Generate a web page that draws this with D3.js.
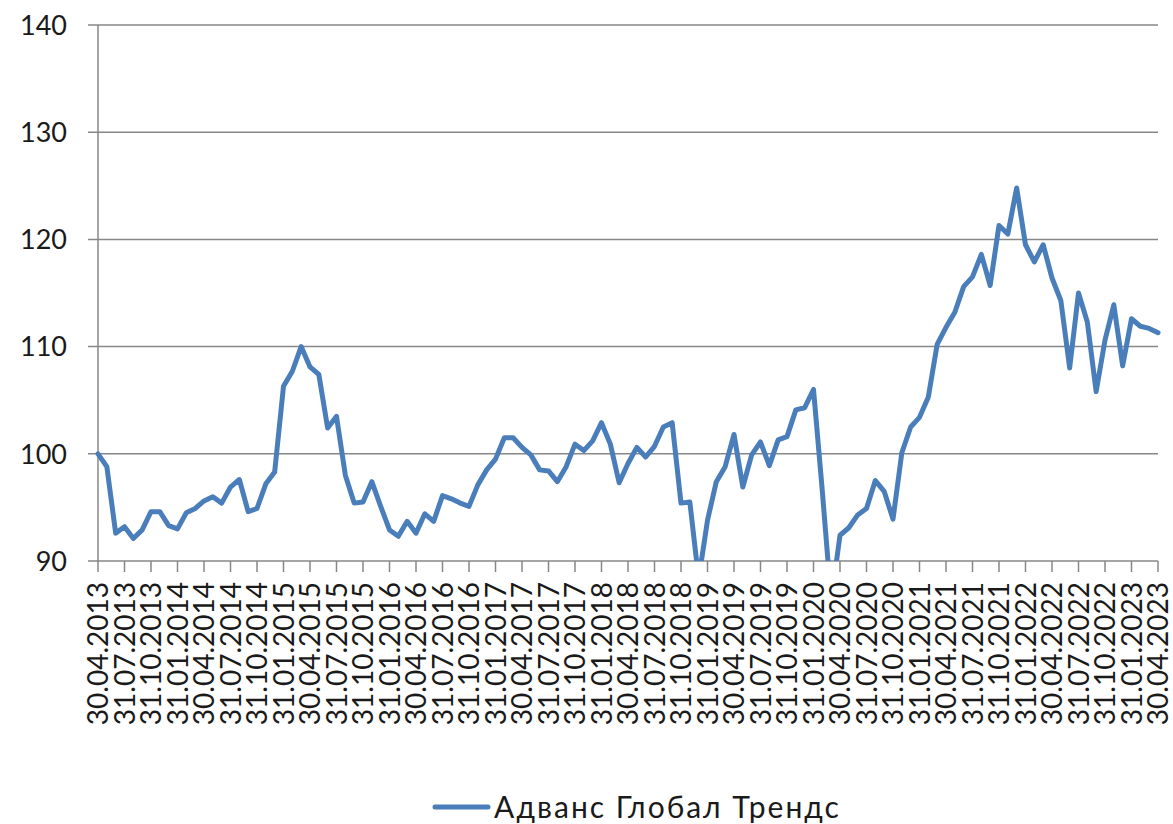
<!DOCTYPE html>
<html><head><meta charset="utf-8">
<script src="https://cdn.jsdelivr.net/npm/d3@7"></script>
<style>
html,body{margin:0;padding:0;background:#fff;}
svg{display:block;font-family:Lato,"Open Sans",sans-serif;}
</style></head>
<body><svg id="chart" width="1173" height="824"></svg>
<script>
const seriesName = "Адванс Глобал Трендс";
const tickLabels = ["30.04.2013","31.07.2013","31.10.2013","31.01.2014","30.04.2014","31.07.2014","31.10.2014","31.01.2015","30.04.2015","31.07.2015","31.10.2015","31.01.2016","30.04.2016","31.07.2016","31.10.2016","31.01.2017","30.04.2017","31.07.2017","31.10.2017","31.01.2018","30.04.2018","31.07.2018","31.10.2018","31.01.2019","30.04.2019","31.07.2019","31.10.2019","31.01.2020","30.04.2020","31.07.2020","31.10.2020","31.01.2021","30.04.2021","31.07.2021","31.10.2021","31.01.2022","30.04.2022","31.07.2022","31.10.2022","31.01.2023","30.04.2023"];
const values = [100.0,98.8,92.6,93.2,92.1,92.9,94.6,94.6,93.3,93.0,
94.5,94.9,95.6,96.0,95.4,96.9,97.6,94.6,94.9,97.2,
98.3,106.3,107.7,110.0,108.1,107.4,102.4,103.5,98.0,95.4,
95.5,97.4,95.1,92.9,92.3,93.7,92.6,94.4,93.7,96.1,
95.8,95.4,95.1,97.1,98.5,99.5,101.5,101.5,100.6,99.9,
98.5,98.4,97.4,98.8,100.9,100.3,101.2,102.9,100.9,97.3,
99.1,100.6,99.7,100.7,102.5,102.9,95.4,95.5,88.3,93.8,
97.4,98.8,101.8,96.9,99.9,101.1,98.9,101.3,101.6,104.1,
104.3,106.0,96.5,86.3,92.4,93.1,94.3,94.9,97.5,96.5,
93.9,100.1,102.5,103.4,105.3,110.2,111.8,113.2,115.6,116.5,
118.6,115.7,121.3,120.5,124.8,119.5,117.9,119.5,116.4,114.3,
108.0,115.0,112.3,105.8,110.6,113.9,108.2,112.6,111.9,111.7,111.3];
const yTicks = [90,100,110,120,130,140];

// month-end category dates from 30.04.2013
const fmt = d3.timeFormat("%d.%m.%Y");
const categories = values.map((v,i)=>fmt(d3.timeDay.offset(d3.timeMonth.offset(new Date(2013,4,1), i), -1)));

const svg = d3.select("#chart");
const L = 98, R = 1158, T = 25, B = 561;
const x = d3.scaleLinear().domain([0, values.length-1]).range([L, R]);
const y = d3.scaleLinear().domain([90, 140]).range([B, T]);
const grid = "#878787";

// gridlines
svg.append("g").selectAll("line").data(yTicks).join("line")
  .attr("x1", L-10).attr("x2", R).attr("y1", d=>y(d)).attr("y2", d=>y(d))
  .attr("stroke", grid).attr("stroke-width", 1.5);
// y axis line
svg.append("line").attr("x1", L).attr("x2", L).attr("y1", T).attr("y2", B)
  .attr("stroke", grid).attr("stroke-width", 1.5);
// y labels
svg.append("g").selectAll("text").data(yTicks).join("text")
  .attr("x", 67).attr("y", d=>y(d)).attr("dy", "0.36em")
  .attr("text-anchor", "end").attr("font-size", 27).attr("fill", "#1a1a1a")
  .text(d=>d);

// x ticks every 3 months
const tickIdx = tickLabels.map(l => categories.indexOf(l));
svg.append("g").selectAll("line").data(tickIdx).join("line")
  .attr("x1", d=>x(d)).attr("x2", d=>x(d)).attr("y1", B).attr("y2", B+11)
  .attr("stroke", grid).attr("stroke-width", 1.5);
svg.append("g").selectAll("text").data(tickLabels).join("text")
  .attr("transform", (d,i)=>`translate(${x(tickIdx[i])},${B+21}) rotate(-90)`)
  .attr("text-anchor", "end").attr("dy", "0.36em")
  .attr("font-size", 28).attr("fill", "#1a1a1a")
  .text(d=>d);

// clip
svg.append("defs").append("clipPath").attr("id","clip")
  .append("rect").attr("x", L-10).attr("y", T-10).attr("width", R-L+20).attr("height", B-T+10);

const line = d3.line().x((d,i)=>x(i)).y(d=>y(d));
svg.append("path").datum(values).attr("d", line)
  .attr("clip-path","url(#clip)")
  .attr("fill","none").attr("stroke","#4a7ebb").attr("stroke-width",5)
  .attr("stroke-linejoin","round").attr("stroke-linecap","round");

// legend
const lg = svg.append("g");
lg.append("line").attr("x1", 435).attr("x2", 488).attr("y1", 807).attr("y2", 807)
  .attr("stroke","#4a7ebb").attr("stroke-width",5).attr("stroke-linecap","round");
lg.append("text").attr("x", 494).attr("y", 807).attr("dy","0.36em")
  .attr("font-size", 30).attr("letter-spacing", 2).attr("fill","#1a1a1a").text(seriesName);
</script></body></html>
